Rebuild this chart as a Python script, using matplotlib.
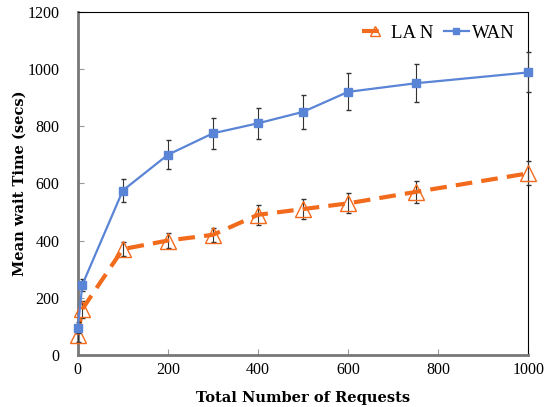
import matplotlib.pyplot as plt

requests = [0, 10, 100, 200, 300, 400, 500, 600, 750, 1000]
lan_wait = [70, 160, 370, 400, 420, 490, 510, 530, 570, 635]
lan_err = [25, 30, 25, 25, 25, 35, 35, 35, 38, 42]
wan_wait = [95, 245, 575, 700, 775, 810, 850, 920, 950, 988]
wan_err = [20, 20, 40, 50, 55, 55, 60, 65, 67, 70]

plt.rcParams['font.family'] = ['Liberation Serif', 'DejaVu Serif']

fig = plt.figure(figsize=(5.44, 4.07), dpi=100)
ax = fig.add_axes([0.143, 0.128, 0.828, 0.843])

lan = ax.errorbar(requests, lan_wait, yerr=lan_err, color='#F26A1B', lw=3, ls=(0, (4, 2.2)),
                  marker='^', ms=11, mfc='none', mec='#F26A1B', mew=1,
                  ecolor='#333333', elinewidth=0.8, capsize=1.8, zorder=3)
wan = ax.errorbar(requests, wan_wait, yerr=wan_err, color='#5A84D6', lw=1.6,
                  marker='s', ms=6, mfc='#5A84D6', mec='#5A84D6',
                  ecolor='#333333', elinewidth=0.8, capsize=1.8, zorder=4)
for cont in (lan, wan):
    for art in [cont.lines[0]] + list(cont.lines[1]) + list(cont.lines[2]):
        art.set_clip_on(False)

ax.set_xlim(0, 1000)
ax.set_ylim(0, 1200)
ax.set_xticks([0, 200, 400, 600, 800, 1000])
ax.set_yticks(range(0, 1201, 200))
ax.tick_params(axis='both', labelsize=11.5, colors='black')
ax.tick_params(axis='x', direction='in', length=4, color='#999999', pad=5)
ax.tick_params(axis='y', direction='in', length=4, color='#999999', pad=13)
ax.set_xlabel('Total Number of Requests', fontsize=10.5, fontweight='bold',
              family='DejaVu Serif')
ax.set_ylabel('Mean wait Time (secs)', fontsize=10.5, fontweight='bold',
              family='DejaVu Serif')
ax.xaxis.set_label_coords(0.5, -0.125)
ax.xaxis.label.set_va('center')
ax.yaxis.set_label_coords(-0.129, 0.5)
ax.yaxis.label.set_va('center')

for s in ['left', 'bottom']:
    ax.spines[s].set_color('#777777')
    ax.spines[s].set_linewidth(2)
for s in ['top', 'right']:
    ax.spines[s].set_color('black')
    ax.spines[s].set_linewidth(0.8)

ax.legend([lan.lines[0], wan.lines[0]], ['LA N', 'WAN'], loc='upper right', ncol=2,
          frameon=False, fontsize=13.5, handlelength=1.3, columnspacing=0.6,
          handletextpad=0.2, borderaxespad=0.3, markerscale=0.7)

fig.savefig('out.png', dpi=100)
